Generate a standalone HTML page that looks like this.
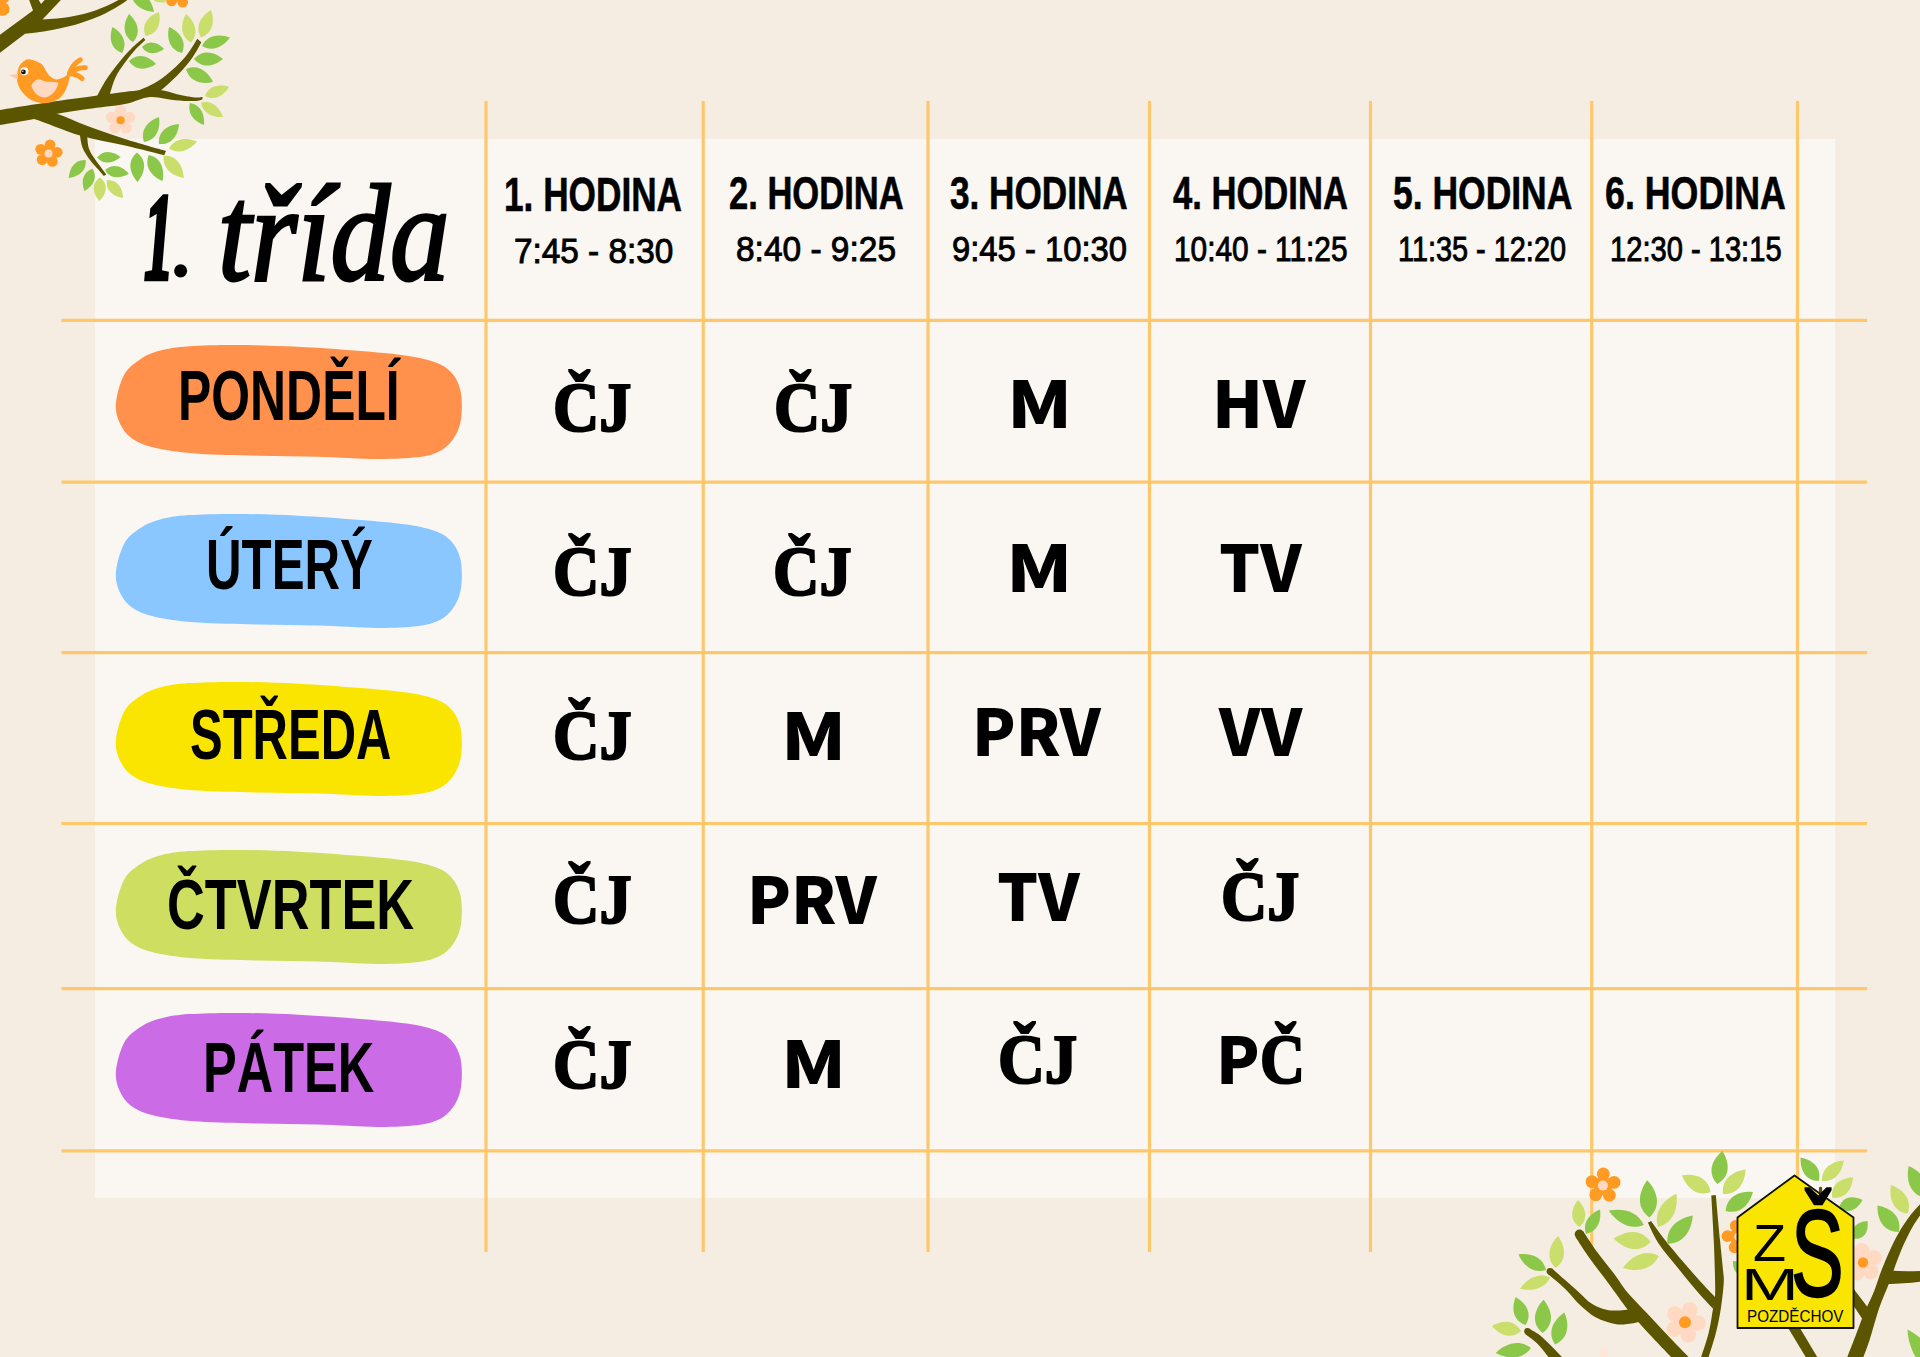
<!DOCTYPE html>
<html lang="cs"><head><meta charset="utf-8"><title>Rozvrh hodin – 1. třída</title>
<style>
html,body{margin:0;padding:0}
body{width:1920px;height:1357px;overflow:hidden;position:relative;background:#F5EDE2;font-family:"Liberation Sans",sans-serif;color:#000}
.panel{position:absolute;left:95.2px;top:138.5px;width:1739.6px;height:1059.2px;background:#FAF7F2}
svg{position:absolute;left:0;top:0}
h1{margin:0;padding:0;font-size:inherit;font-weight:inherit}
.t{position:absolute;white-space:nowrap;line-height:1;transform-origin:0 0;color:#000}
.hd,.dy{font-family:"Liberation Sans",sans-serif;font-weight:bold}
.hd{-webkit-text-stroke:0.6px #000}
.tm{font-family:"Liberation Sans",sans-serif;font-weight:normal;-webkit-text-stroke:0.9px #000}
.cb{font-family:"Noto Sans CJK KR","Liberation Sans",sans-serif;font-weight:900}
.cs{font-family:"Liberation Serif",serif;font-weight:bold;-webkit-text-stroke:2.2px #000}
.ti{font-family:"Liberation Serif",serif;font-weight:bold;font-style:italic;-webkit-text-stroke:4.5px #000}
.lg{font-family:"Liberation Sans",sans-serif;font-weight:normal}
.lgb{font-family:"Liberation Sans",sans-serif;font-weight:normal;-webkit-text-stroke:2.4px #000}
.ti2{font-family:"Liberation Serif",serif;font-weight:normal;font-style:italic;-webkit-text-stroke:3px #000}
</style></head><body>
<div class="panel"></div>
<svg width="1920" height="1357" viewBox="0 0 1920 1357"><g stroke="#FFC76C" stroke-width="3.2" fill="none"><path d="M486 101V1252"/><path d="M703.25 101V1252"/><path d="M928 101V1252"/><path d="M1149.5 101V1252"/><path d="M1370.5 101V1252"/><path d="M1591.7 101V1252"/><path d="M1797.5 101V1252"/><path d="M61.5 320.4H1867"/><path d="M61.5 482.1H1867"/><path d="M61.5 652.6H1867"/><path d="M61.5 823.5H1867"/><path d="M61.5 988.6H1867"/><path d="M61.5 1150.9H1867"/></g><path transform="translate(115.8 345)" fill="#FF914D" d="M0 60.2C0.33 51.62 3.98 38.08 7.95 30.5C11.92 22.92 17.86 18.82 23.8 14.7C29.74 10.58 35.37 8.05 43.6 5.8C51.83 3.55 60.02 2.17 73.2 1.2C86.38 0.23 104.53 -0.1 122.7 0C140.87 0.1 162.4 0.83 182.2 1.8C202 2.77 223.37 4.32 241.5 5.8C259.63 7.28 277.8 8.72 291 10.7C304.2 12.68 313.12 14.73 320.7 17.7C328.28 20.67 332.55 24.05 336.5 28.5C340.45 32.95 342.82 38.45 344.4 44.4C345.98 50.35 346.17 57.93 346 64.2C345.83 70.47 345.32 76.4 343.4 82C341.48 87.6 338.28 93.52 334.5 97.8C330.72 102.08 326.3 105.28 320.7 107.7C315.1 110.12 310.82 111.25 300.9 112.3C290.98 113.35 277.7 114.1 261.2 114C244.7 113.9 221.68 112.25 201.9 111.7C182.12 111.15 162.28 111.2 142.5 110.7C122.72 110.2 99.68 109.86 83.2 108.7C66.72 107.54 54.17 105.9 43.6 103.75C33.03 101.6 26.07 99.42 19.8 95.8C13.53 92.17 9.3 87.93 6 82C2.7 76.07 -0.33 68.78 0 60.2Z"/><path transform="translate(115.8 513.9)" fill="#8AC6FF" d="M0 60.2C0.33 51.62 3.98 38.08 7.95 30.5C11.92 22.92 17.86 18.82 23.8 14.7C29.74 10.58 35.37 8.05 43.6 5.8C51.83 3.55 60.02 2.17 73.2 1.2C86.38 0.23 104.53 -0.1 122.7 0C140.87 0.1 162.4 0.83 182.2 1.8C202 2.77 223.37 4.32 241.5 5.8C259.63 7.28 277.8 8.72 291 10.7C304.2 12.68 313.12 14.73 320.7 17.7C328.28 20.67 332.55 24.05 336.5 28.5C340.45 32.95 342.82 38.45 344.4 44.4C345.98 50.35 346.17 57.93 346 64.2C345.83 70.47 345.32 76.4 343.4 82C341.48 87.6 338.28 93.52 334.5 97.8C330.72 102.08 326.3 105.28 320.7 107.7C315.1 110.12 310.82 111.25 300.9 112.3C290.98 113.35 277.7 114.1 261.2 114C244.7 113.9 221.68 112.25 201.9 111.7C182.12 111.15 162.28 111.2 142.5 110.7C122.72 110.2 99.68 109.86 83.2 108.7C66.72 107.54 54.17 105.9 43.6 103.75C33.03 101.6 26.07 99.42 19.8 95.8C13.53 92.17 9.3 87.93 6 82C2.7 76.07 -0.33 68.78 0 60.2Z"/><path transform="translate(115.8 681.9)" fill="#FAE500" d="M0 60.2C0.33 51.62 3.98 38.08 7.95 30.5C11.92 22.92 17.86 18.82 23.8 14.7C29.74 10.58 35.37 8.05 43.6 5.8C51.83 3.55 60.02 2.17 73.2 1.2C86.38 0.23 104.53 -0.1 122.7 0C140.87 0.1 162.4 0.83 182.2 1.8C202 2.77 223.37 4.32 241.5 5.8C259.63 7.28 277.8 8.72 291 10.7C304.2 12.68 313.12 14.73 320.7 17.7C328.28 20.67 332.55 24.05 336.5 28.5C340.45 32.95 342.82 38.45 344.4 44.4C345.98 50.35 346.17 57.93 346 64.2C345.83 70.47 345.32 76.4 343.4 82C341.48 87.6 338.28 93.52 334.5 97.8C330.72 102.08 326.3 105.28 320.7 107.7C315.1 110.12 310.82 111.25 300.9 112.3C290.98 113.35 277.7 114.1 261.2 114C244.7 113.9 221.68 112.25 201.9 111.7C182.12 111.15 162.28 111.2 142.5 110.7C122.72 110.2 99.68 109.86 83.2 108.7C66.72 107.54 54.17 105.9 43.6 103.75C33.03 101.6 26.07 99.42 19.8 95.8C13.53 92.17 9.3 87.93 6 82C2.7 76.07 -0.33 68.78 0 60.2Z"/><path transform="translate(115.8 849.9)" fill="#CDDE61" d="M0 60.2C0.33 51.62 3.98 38.08 7.95 30.5C11.92 22.92 17.86 18.82 23.8 14.7C29.74 10.58 35.37 8.05 43.6 5.8C51.83 3.55 60.02 2.17 73.2 1.2C86.38 0.23 104.53 -0.1 122.7 0C140.87 0.1 162.4 0.83 182.2 1.8C202 2.77 223.37 4.32 241.5 5.8C259.63 7.28 277.8 8.72 291 10.7C304.2 12.68 313.12 14.73 320.7 17.7C328.28 20.67 332.55 24.05 336.5 28.5C340.45 32.95 342.82 38.45 344.4 44.4C345.98 50.35 346.17 57.93 346 64.2C345.83 70.47 345.32 76.4 343.4 82C341.48 87.6 338.28 93.52 334.5 97.8C330.72 102.08 326.3 105.28 320.7 107.7C315.1 110.12 310.82 111.25 300.9 112.3C290.98 113.35 277.7 114.1 261.2 114C244.7 113.9 221.68 112.25 201.9 111.7C182.12 111.15 162.28 111.2 142.5 110.7C122.72 110.2 99.68 109.86 83.2 108.7C66.72 107.54 54.17 105.9 43.6 103.75C33.03 101.6 26.07 99.42 19.8 95.8C13.53 92.17 9.3 87.93 6 82C2.7 76.07 -0.33 68.78 0 60.2Z"/><path transform="translate(115.8 1012.9)" fill="#CB6CE6" d="M0 60.2C0.33 51.62 3.98 38.08 7.95 30.5C11.92 22.92 17.86 18.82 23.8 14.7C29.74 10.58 35.37 8.05 43.6 5.8C51.83 3.55 60.02 2.17 73.2 1.2C86.38 0.23 104.53 -0.1 122.7 0C140.87 0.1 162.4 0.83 182.2 1.8C202 2.77 223.37 4.32 241.5 5.8C259.63 7.28 277.8 8.72 291 10.7C304.2 12.68 313.12 14.73 320.7 17.7C328.28 20.67 332.55 24.05 336.5 28.5C340.45 32.95 342.82 38.45 344.4 44.4C345.98 50.35 346.17 57.93 346 64.2C345.83 70.47 345.32 76.4 343.4 82C341.48 87.6 338.28 93.52 334.5 97.8C330.72 102.08 326.3 105.28 320.7 107.7C315.1 110.12 310.82 111.25 300.9 112.3C290.98 113.35 277.7 114.1 261.2 114C244.7 113.9 221.68 112.25 201.9 111.7C182.12 111.15 162.28 111.2 142.5 110.7C122.72 110.2 99.68 109.86 83.2 108.7C66.72 107.54 54.17 105.9 43.6 103.75C33.03 101.6 26.07 99.42 19.8 95.8C13.53 92.17 9.3 87.93 6 82C2.7 76.07 -0.33 68.78 0 60.2Z"/></svg>
<h1 class="title"><span class="t ti" style="left:144.4px;top:174.5px;font-size:124.5px;transform:scaleX(0.4770)">1</span><span class="t ti2" style="left:172px;top:201.8px;font-size:87.5px;transform:scaleX(0.9818)">.</span> <span class="t ti2" style="left:218.45px;top:165.35px;font-size:138.5px;transform:scaleX(0.8596)">třída</span></h1>
<div class="t hd" style="left:504px;top:170.6px;font-size:47.75px;transform:scaleX(0.7373)">1. HODINA</div>
<div class="t hd" style="left:728.5px;top:170.2px;font-size:46px;transform:scaleX(0.7508)">2. HODINA</div>
<div class="t hd" style="left:950.28px;top:170.2px;font-size:46px;transform:scaleX(0.7643)">3. HODINA</div>
<div class="t hd" style="left:1173.35px;top:170.2px;font-size:46px;transform:scaleX(0.7519)">4. HODINA</div>
<div class="t hd" style="left:1392.73px;top:170.2px;font-size:46px;transform:scaleX(0.7710)">5. HODINA</div>
<div class="t hd" style="left:1605.46px;top:171.05px;font-size:45.75px;transform:scaleX(0.7816)">6. HODINA</div>
<div class="t tm" style="left:513.95px;top:234.2px;font-size:34.5px;transform:scaleX(0.9655)">7:45 - 8:30</div>
<div class="t tm" style="left:736px;top:231.5px;font-size:34.5px;transform:scaleX(0.9699)">8:40 - 9:25</div>
<div class="t tm" style="left:952px;top:231.5px;font-size:34.5px;transform:scaleX(0.9501)">9:45 - 10:30</div>
<div class="t tm" style="left:1173.7px;top:231.5px;font-size:34.5px;transform:scaleX(0.8643)">10:40 - 11:25</div>
<div class="t tm" style="left:1398.05px;top:231.5px;font-size:34.5px;transform:scaleX(0.8368)">11:35 - 12:20</div>
<div class="t tm" style="left:1610.05px;top:232.35px;font-size:34.25px;transform:scaleX(0.8500)">12:30 - 13:15</div>
<div class="t dy" style="left:177.85px;top:362px;font-size:69.75px;transform:scaleX(0.7152)">PONDĚLÍ</div>
<div class="t dy" style="left:205.9px;top:531.2px;font-size:69.75px;transform:scaleX(0.7063)">ÚTERÝ</div>
<div class="t dy" style="left:189.9px;top:700.8px;font-size:69.75px;transform:scaleX(0.7022)">STŘEDA</div>
<div class="t dy" style="left:166.65px;top:870.8px;font-size:69.75px;transform:scaleX(0.7503)">ČTVRTEK</div>
<div class="t dy" style="left:203.4px;top:1033.9px;font-size:69.75px;transform:scaleX(0.7247)">PÁTEK</div>
<div class="t cs" style="left:552.75px;top:371.75px;font-size:70.5px;transform:scaleX(0.9097)">ČJ</div>
<div class="t cs" style="left:773.85px;top:371.75px;font-size:70.5px;transform:scaleX(0.9073)">ČJ</div>
<div class="t cb" style="left:1006.68px;top:367.8px;font-size:65px;transform:scaleX(1.1438)">M</div>
<div class="t cb" style="left:1212.05px;top:367.8px;font-size:65px;transform:scaleX(1.0161)">HV</div>
<div class="t cs" style="left:552.75px;top:535.95px;font-size:70.5px;transform:scaleX(0.9116)">ČJ</div>
<div class="t cs" style="left:773.35px;top:535.95px;font-size:70.5px;transform:scaleX(0.9116)">ČJ</div>
<div class="t cb" style="left:1005.9px;top:532.4px;font-size:65px;transform:scaleX(1.1665)">M</div>
<div class="t cb" style="left:1218.75px;top:532.4px;font-size:65px;transform:scaleX(0.9909)">TV</div>
<div class="t cs" style="left:552.75px;top:700.05px;font-size:70.5px;transform:scaleX(0.9116)">ČJ</div>
<div class="t cb" style="left:781.38px;top:700.2px;font-size:65px;transform:scaleX(1.1438)">M</div>
<div class="t cb" style="left:972.1px;top:696.1px;font-size:65px;transform:scaleX(0.9795)">PRV</div>
<div class="t cb" style="left:1219.2px;top:696.1px;font-size:65px;transform:scaleX(0.9866)">VV</div>
<div class="t cs" style="left:552.75px;top:864.05px;font-size:70.5px;transform:scaleX(0.9116)">ČJ</div>
<div class="t cb" style="left:746.8px;top:864.2px;font-size:65px;transform:scaleX(0.9874)">PRV</div>
<div class="t cb" style="left:996.95px;top:860.6px;font-size:65px;transform:scaleX(0.9909)">TV</div>
<div class="t cs" style="left:1220.95px;top:861.45px;font-size:70.5px;transform:scaleX(0.9079)">ČJ</div>
<div class="t cs" style="left:552.75px;top:1029.25px;font-size:70.5px;transform:scaleX(0.9116)">ČJ</div>
<div class="t cb" style="left:781.38px;top:1028.4px;font-size:65px;transform:scaleX(1.1438)">M</div>
<div class="t cs" style="left:998.25px;top:1024.05px;font-size:70.5px;transform:scaleX(0.9200)">ČJ</div>
<div class="cell"><span class="t cb" style="left:1216.4px;top:1024.2px;font-size:65px;transform:scaleX(0.9783)">P</span><span class="t cs" style="left:1259.5px;top:1024.05px;font-size:70.5px;transform:scaleX(0.8831)">Č</span></div>
<svg width="1920" height="1357" viewBox="0 0 1920 1357"><g id="tl"><g fill="#5C5500"><path d="M-2 36.2L33 10.6L27 -6L35.4 -6L41 4L50.2 -6L66.5 -6L42.5 19.4C60 18.6 90 17 122 -2L130 -2C111 13 80 28.5 25 33.7L-2 54.3Z"/><path d="M-2 110.3C4.58 109.25 20.92 106.45 37.5 104C54.08 101.55 80.83 97.83 97.5 95.6C114.17 93.37 127.08 91.53 137.5 90.6C147.92 89.67 153.42 89.4 160 90C166.58 90.6 171.17 92.97 177 94.2C182.83 95.43 190.75 96.93 195 97.4C199.25 97.87 201.25 97.07 202.5 97L202.5 99.2C201.25 99.5 199.58 100.83 195 101C190.42 101.17 182.5 100.87 175 100.2C167.5 99.53 158.33 96.37 150 97C141.67 97.63 135.42 102 125 104C114.58 106 99 107.33 87.5 109C76 110.67 64.92 112.33 56 114C47.08 115.67 43.67 117.1 34 119C24.33 120.9 4 124.33 -2 125.4Z"/><path d="M30 108C34.33 108.92 46.42 110.5 56 113.5C65.58 116.5 76 121.75 87.5 126C99 130.25 111.92 134.83 125 139C138.08 143.17 159.17 149 166 151L164.2 155.3C157.67 153.68 139.03 148.9 125 145.6C110.97 142.3 95.17 139.93 80 135.5C64.83 131.07 44 121.92 34 119C24 116.08 22.33 118.17 20 118Z"/><path d="M79.5 132C80 134.58 80.75 142.83 82.5 147.5C84.25 152.17 87.33 156.28 90 160C92.67 163.72 96.2 167.13 98.5 169.8C100.8 172.47 102.92 174.97 103.8 176L106.2 174.4C105.42 173.33 103.33 170.47 101.5 168C99.67 165.53 97.3 162.85 95.2 159.6C93.1 156.35 90.27 152.77 88.9 148.5C87.53 144.23 87.32 136.42 87 134Z"/><path d="M96 98C97.67 95 102.17 85.92 106 80C109.83 74.08 114.83 67.67 119 62.5C123.17 57.33 126.9 53.12 131 49C135.1 44.88 141.5 39.67 143.6 37.8L145.3 40C143.58 41.67 138.38 46.25 135 50C131.62 53.75 128.25 57.92 125 62.5C121.75 67.08 118.17 71.75 115.5 77.5C112.83 83.25 110.08 93.75 109 97Z"/><path d="M135 92C138.5 90.38 149.33 86.38 156 82.3C162.67 78.22 169.75 72.22 175 67.5C180.25 62.78 183.78 58.78 187.5 54C191.22 49.22 195.67 41.33 197.3 38.8L201.3 42.3C199.83 44.83 196.47 52.02 192.5 57.5C188.53 62.98 183.25 69.28 177.5 75.2C171.75 81.12 161.25 90.03 158 93Z"/></g><path fill="#8BC84A" d="M122 53C128.54 41.77 121.27 32.05 112.5 27C109.05 36.51 109.76 48.63 122 53Z"/><path fill="#8BC84A" d="M133 42C142.1 32.13 136.81 20.88 129 14C123.43 22.8 121.5 35.07 133 42Z"/><path fill="#C9DE6B" d="M145.6 36C158.7 33.87 161.15 22.02 159 12C149.35 15.42 140.54 23.73 145.6 36Z"/><path fill="#8BC84A" d="M142 47C147.83 56.05 157.34 53.93 164 49C158.34 42.95 149.37 39.15 142 47Z"/><path fill="#8BC84A" d="M129 61C136 71.84 147.72 69.62 156 64C149.16 56.7 138.2 51.96 129 61Z"/><path fill="#8BC84A" d="M182 53C187.4 40.55 178.69 31.26 169 27C166.59 37.3 168.8 49.85 182 53Z"/><path fill="#C9DE6B" d="M191 42.5C199.74 32.15 194.06 20.81 186 14C180.74 23.15 179.26 35.75 191 42.5Z"/><path fill="#C9DE6B" d="M201 37.5C213.77 32.8 214.55 20.01 211 10C201.85 15.39 194.23 25.7 201 37.5Z"/><path fill="#8BC84A" d="M202 46C213.19 52.64 223.97 45.85 230 37.5C220.35 33.91 207.61 34.26 202 46Z"/><path fill="#8BC84A" d="M194 59C202.7 69.4 214.88 65.76 223 59C214.88 52.24 202.7 48.6 194 59Z"/><path fill="#8BC84A" d="M186 69C189.59 82.27 202.51 84.45 213 82C208.37 72.27 198.61 63.53 186 69Z"/><path fill="#C9DE6B" d="M205 96C215.29 101.54 224.29 94.88 229 87C220.27 84.16 209.11 85.06 205 96Z"/><path fill="#C9DE6B" d="M201 102.5C202.76 114.2 213.69 117.72 223 117C219.99 108.16 212.44 99.5 201 102.5Z"/><path fill="#8BC84A" d="M190 103C186.78 114.32 195.25 121.91 204 125C204.91 115.77 201.62 104.88 190 103Z"/><path fill="#8BC84A" d="M144 142C157.42 139.85 160.6 127.48 159 117C149 120.52 139.58 129.15 144 142Z"/><path fill="#8BC84A" d="M159 144C172.35 145.35 178.18 134.38 179 124C168.62 124.82 157.65 130.65 159 144Z"/><path fill="#C9DE6B" d="M169 148.5C179.63 155.33 190.61 149.26 197 141.5C187.71 137.66 175.17 137.47 169 148.5Z"/><path fill="#C9DE6B" d="M163.75 155.6C161.99 169.25 173.11 176.23 183.75 178C183.19 167.23 177.51 155.39 163.75 155.6Z"/><path fill="#8BC84A" d="M148.75 155C143.68 167.66 152.67 176.88 162.5 181C164.63 170.56 162.07 157.94 148.75 155Z"/><path fill="#8BC84A" d="M137 152.5C126.15 161.54 130.21 173.86 137.5 182C144.51 173.62 148.15 161.16 137 152.5Z"/><path fill="#8BC84A" d="M97 157.5C104.26 165.83 114.11 162.65 120.6 157C113.88 151.63 103.9 148.87 97 157.5Z"/><path fill="#8BC84A" d="M105 170C110.75 179.82 121.21 178.35 128.75 173.75C122.99 167.05 113.5 162.43 105 170Z"/><path fill="#8BC84A" d="M85.6 160C74.12 159.39 69.29 169.05 68.75 178C77.64 176.87 86.97 171.41 85.6 160Z"/><path fill="#8BC84A" d="M92.5 168.75C81.8 172.41 81.29 182.81 84.4 191C92.04 186.73 98.34 178.44 92.5 168.75Z"/><path fill="#C9DE6B" d="M100 177.5C90.22 184.3 93.33 194.26 99.4 201C105.81 194.58 109.42 184.8 100 177.5Z"/><path fill="#C9DE6B" d="M107 180C105.22 191.25 114.24 196.76 123 198C122.8 189.16 118.38 179.55 107 180Z"/><path fill="#8BC84A" d="M131 -9C130.89 4.98 143 11.11 154 12C152.12 1.13 144.91 -10.38 131 -9Z"/><path fill="#C9DE6B" d="M150 -8C150.56 1.78 158.76 3.61 166 2C164.28 -5.21 159.04 -11.78 150 -8Z"/><g fill="#FFD9C2"><circle cx="120.6" cy="110.65" r="5.6"/><circle cx="129.73" cy="117.28" r="5.6"/><circle cx="126.24" cy="128.02" r="5.6"/><circle cx="114.96" cy="128.02" r="5.6"/><circle cx="111.47" cy="117.28" r="5.6"/><path d="M120.6 110.65L129.73 117.28L126.24 128.02L114.96 128.02L111.47 117.28Z"/></g><circle cx="120.6" cy="120.25" r="4.1" fill="#FF9A22"/><g fill="#FF9A22"><circle cx="50.03" cy="144.83" r="5.4"/><circle cx="57.21" cy="152.28" r="5.4"/><circle cx="52.36" cy="161.41" r="5.4"/><circle cx="42.17" cy="159.61" r="5.4"/><circle cx="40.73" cy="149.37" r="5.4"/><path d="M50.03 144.83L57.21 152.28L52.36 161.41L42.17 159.61L40.73 149.37Z"/></g><circle cx="48.5" cy="153.5" r="4" fill="#FFD9C2"/><g fill="#FF9A22"><circle cx="2.83" cy="9.05" r="6.8"/><circle cx="-8.68" cy="12.8" r="6.8"/><circle cx="-15.8" cy="3" r="6.8"/><circle cx="-8.68" cy="-6.8" r="6.8"/><circle cx="2.83" cy="-3.05" r="6.8"/><path d="M2.83 9.05L-8.68 12.8L-15.8 3L-8.68 -6.8L2.83 -3.05Z"/></g><circle cx="-5.5" cy="3" r="4" fill="#FFD9C2"/><g fill="#FF9A22"><circle cx="182.75" cy="2.23" r="5.3"/><circle cx="171.64" cy="1.06" r="5.3"/><circle cx="169.32" cy="-9.86" r="5.3"/><circle cx="178.99" cy="-15.45" r="5.3"/><circle cx="187.29" cy="-7.98" r="5.3"/><path d="M182.75 2.23L171.64 1.06L169.32 -9.86L178.99 -15.45L187.29 -7.98Z"/></g><circle cx="178" cy="-6" r="4" fill="#FFD9C2"/><g><g fill="none" stroke="#FF9A22" stroke-width="5" stroke-linecap="round"><path d="M69.5 73.5Q72 64.5 80.2 59.8"/><path d="M69.5 73.5Q77 67 85.3 67.8"/><path d="M69.5 74Q77 73.5 82 78.6"/></g><path fill="#FF9A22" d="M30 59.4C32.92 59.82 38.54 61.77 41.25 63.75C43.96 65.72 44.79 69.17 46.25 71.25C47.71 73.33 48.33 74.89 50 76.25C51.67 77.61 54.08 79.18 56.25 79.4C58.42 79.62 60.81 78.54 63 77.6C65.19 76.66 68.44 73.14 69.4 73.75C70.36 74.36 69.48 78.33 68.75 81.25C68.02 84.17 66.67 88.33 65 91.25C63.33 94.17 61.25 96.88 58.75 98.75C56.25 100.62 52.92 101.79 50 102.5C47.08 103.21 44.38 103.42 41.25 103C38.12 102.58 34.17 101.54 31.25 100C28.33 98.46 25.83 96.04 23.75 93.75C21.67 91.46 19.89 88.96 18.75 86.25C17.61 83.54 16.9 80.62 16.9 77.5C16.9 74.38 17.61 70.21 18.75 67.5C19.89 64.79 21.88 62.6 23.75 61.25C25.62 59.9 27.08 58.98 30 59.4Z"/><path fill="#FFC9A8" d="M9.4 75.6L17.8 73.5L17.8 79.6Z"/><path fill="#FFD9C2" d="M37.5 79.4C39.89 78.9 42.92 80.98 46.25 81.5C49.58 82.02 55.73 81.5 57.5 82.5C59.27 83.5 57.73 85.62 56.9 87.5C56.07 89.38 54.48 92.08 52.5 93.75C50.52 95.42 47.5 97.29 45 97.5C42.5 97.71 39.58 96.46 37.5 95C35.42 93.54 33.43 90.5 32.5 88.75C31.57 87 31.07 86.06 31.9 84.5C32.73 82.94 35.11 79.9 37.5 79.4Z"/><circle cx="24.4" cy="71.3" r="4" fill="#fff"/><circle cx="23.4" cy="71.9" r="2.4" fill="#111"/><circle cx="22.8" cy="71.2" r="0.7" fill="#fff"/></g></g><g id="br"><g fill="#5C5500"><path d="M1575.5 1237C1577.92 1240.62 1584.46 1250.96 1590 1258.75C1595.54 1266.54 1602.5 1275.31 1608.75 1283.75C1615 1292.19 1622.5 1302.94 1627.5 1309.4C1632.5 1315.86 1634.58 1317.82 1638.75 1322.5C1642.92 1327.18 1646.79 1331.42 1652.5 1337.5C1658.21 1343.58 1669.58 1355.42 1673 1359L1690.5 1359C1686.25 1354.58 1672.38 1340.25 1665 1332.5C1657.62 1324.75 1652.5 1319.17 1646.25 1312.5C1640 1305.83 1632.71 1298.75 1627.5 1292.5C1622.29 1286.25 1620 1281.67 1615 1275C1610 1268.33 1602.8 1259.8 1597.5 1252.5C1592.2 1245.2 1585.58 1234.75 1583.2 1231.2Z"/><circle cx="1579.4" cy="1234.2" r="4.7"/><path d="M1552.3 1268.8C1556.5 1272.5 1571.22 1285.38 1577.5 1291C1583.78 1296.62 1585.83 1299.54 1590 1302.5C1594.17 1305.46 1598.33 1307.4 1602.5 1308.75C1606.67 1310.1 1610.08 1310.51 1615 1310.6C1619.92 1310.69 1629.17 1309.52 1632 1309.3L1642 1321.5C1639.58 1321.92 1632 1323.58 1627.5 1324C1623 1324.42 1620.25 1325.08 1615 1324C1609.75 1322.92 1601.83 1320.67 1596 1317.5C1590.17 1314.33 1585.17 1309.79 1580 1305C1574.83 1300.21 1570.38 1293.95 1565 1288.75C1559.62 1283.55 1550.58 1276.29 1547.7 1273.8Z"/><circle cx="1550" cy="1271.3" r="3.4"/><path d="M1647.9 1222.8C1649.71 1226.29 1653.82 1236.3 1658.75 1243.75C1663.68 1251.2 1671.29 1259.79 1677.5 1267.5C1683.71 1275.21 1690.08 1283.12 1696 1290C1701.92 1296.88 1710.17 1305.62 1713 1308.75L1716 1298C1713.75 1295.62 1707.88 1289.67 1702.5 1283.75C1697.12 1277.83 1690 1269.79 1683.75 1262.5C1677.5 1255.21 1670.46 1246.92 1665 1240C1659.54 1233.08 1653.33 1224.17 1651 1221Z"/><path d="M1711.3 1195.4C1711.71 1202.83 1713.13 1226.32 1713.75 1240C1714.37 1253.68 1714.79 1268 1715 1277.5C1715.21 1287 1715.33 1291.79 1715 1297C1714.67 1302.21 1714.04 1302.83 1713 1308.75C1711.96 1314.67 1710.83 1324.12 1708.75 1332.5C1706.67 1340.88 1701.88 1354.58 1700.5 1359L1708 1359C1709.33 1354.58 1713.83 1341.08 1716 1332.5C1718.17 1323.92 1719.71 1315.83 1721 1307.5C1722.29 1299.17 1723.42 1288.75 1723.75 1282.5C1724.08 1276.25 1723.62 1277.08 1723 1270C1722.38 1262.92 1721.2 1252.5 1720 1240C1718.8 1227.5 1716.5 1202.5 1715.8 1195Z"/><path d="M1528.9 1328.6C1531.17 1330.08 1536.65 1332.43 1542.5 1337.5C1548.35 1342.57 1560.42 1355.42 1564 1359L1550 1359C1547.92 1356.46 1541.63 1347.93 1537.5 1343.75C1533.37 1339.57 1527.25 1335.54 1525.2 1333.9Z"/><circle cx="1527.3" cy="1331.2" r="3.1"/><path d="M1922 1202C1919.67 1204.73 1912.47 1212.2 1908 1218.4C1903.53 1224.6 1899.47 1230.93 1895.2 1239.2C1890.93 1247.47 1885.87 1259.47 1882.4 1268C1878.93 1276.53 1876.93 1284 1874.4 1290.4C1871.87 1296.8 1869.2 1301.87 1867.2 1306.4C1865.2 1310.93 1864.4 1312.53 1862.4 1317.6C1860.4 1322.67 1857.85 1329.9 1855.2 1336.8C1852.55 1343.7 1847.95 1355.3 1846.5 1359L1862.6 1359C1863.77 1355.83 1866.83 1348.5 1869.6 1340C1872.37 1331.5 1876 1317.33 1879.2 1308C1882.4 1298.67 1886.4 1290.27 1888.8 1284C1891.2 1277.73 1891.2 1276.8 1893.6 1270.4C1896 1264 1900 1252.93 1903.2 1245.6C1906.4 1238.27 1909.67 1231.92 1912.8 1226.4C1915.93 1220.88 1920.47 1214.82 1922 1212.5Z"/><path d="M1890 1270.6C1900 1271.3 1910 1271.4 1922 1270.8V1281.4C1910 1283 1900 1283.6 1886 1284Z"/><path d="M1835 1263L1853.75 1289L1869 1309L1863 1320L1853.75 1306L1825 1268Z"/><path d="M1776 1308L1807.5 1360H1819L1788 1308Z"/><path d="M1819 1187.3Q1820.5 1186.2 1822 1187.3L1824 1215H1819Z"/></g><path fill="#C9DE6B" d="M1579.4 1227C1589.37 1218.36 1585.14 1207.21 1578 1200C1571.64 1207.91 1568.59 1219.44 1579.4 1227Z"/><path fill="#8BC84A" d="M1586 1233.75C1598.52 1231.23 1601.49 1219.33 1600 1209.4C1590.67 1213.11 1581.88 1221.66 1586 1233.75Z"/><path fill="#C9DE6B" d="M1555.6 1268C1567.89 1259.27 1564.85 1245.52 1558 1236C1549.81 1244.4 1544.75 1257.53 1555.6 1268Z"/><path fill="#8BC84A" d="M1546 1270C1542.88 1256.27 1529.54 1252.89 1518.5 1254.4C1522.86 1264.65 1532.62 1274.37 1546 1270Z"/><path fill="#C9DE6B" d="M1550 1277.5C1537.63 1271.89 1526.21 1279.76 1520 1288.75C1530.59 1291.44 1544.37 1289.86 1550 1277.5Z"/><path fill="#8BC84A" d="M1643.75 1225C1637.51 1210.32 1621.32 1207.9 1608.75 1210.6C1615.78 1221.36 1628.99 1231.04 1643.75 1225Z"/><path fill="#8BC84A" d="M1649.4 1217.5C1662.33 1205.54 1656.68 1190.17 1647.25 1180.25C1639.03 1191.19 1635.18 1207.11 1649.4 1217.5Z"/><path fill="#C9DE6B" d="M1658 1227C1674.04 1222.86 1678.14 1206.85 1676.5 1193.75C1664.5 1199.27 1653.06 1211.19 1658 1227Z"/><path fill="#8BC84A" d="M1667.5 1243.75C1684.6 1243.85 1691.87 1229.04 1692.75 1215.6C1679.49 1217.93 1665.55 1226.76 1667.5 1243.75Z"/><path fill="#C9DE6B" d="M1650.6 1242C1640.74 1227.48 1624.84 1230.85 1613.75 1238.75C1623.29 1248.47 1638.35 1254.57 1650.6 1242Z"/><path fill="#C9DE6B" d="M1658.75 1256C1644.21 1248.22 1630.53 1257.25 1623 1268C1635.49 1272.03 1651.84 1270.98 1658.75 1256Z"/><path fill="#C9DE6B" d="M1710.6 1192C1708.08 1176.62 1693.95 1173.21 1682 1175.25C1686.07 1186.67 1695.96 1197.33 1710.6 1192Z"/><path fill="#8BC84A" d="M1717.25 1184C1731.44 1176.11 1729.18 1161.6 1722.4 1151.1C1712.74 1159.03 1706.15 1172.15 1717.25 1184Z"/><path fill="#C9DE6B" d="M1723 1194C1738.62 1194.74 1745.02 1181.56 1745.6 1169.4C1733.53 1171.01 1720.94 1178.5 1723 1194Z"/><path fill="#8BC84A" d="M1725.6 1211C1740.66 1215.16 1749.77 1203.73 1753 1192C1740.88 1190.91 1726.98 1195.44 1725.6 1211Z"/><path fill="#8BC84A" d="M1818.75 1181C1822.17 1167.1 1811.44 1159.63 1800.6 1157.5C1799.92 1168.53 1804.44 1180.8 1818.75 1181Z"/><path fill="#C9DE6B" d="M1822 1181C1835.64 1182.47 1842.28 1171.24 1843.75 1160.6C1833.04 1161.38 1821.41 1167.29 1822 1181Z"/><path fill="#C9DE6B" d="M1832 1197.5C1846.02 1199.61 1852.14 1188.37 1853 1177.5C1842.1 1177.83 1830.58 1183.39 1832 1197.5Z"/><path fill="#8BC84A" d="M1839 1207.5C1849.21 1215.16 1857.98 1208.54 1862.5 1200C1853.86 1195.66 1842.89 1195.34 1839 1207.5Z"/><path fill="#8BC84A" d="M1853 1238.75C1865.4 1240 1868.68 1230.25 1867.5 1221C1858.2 1221.69 1849.3 1226.85 1853 1238.75Z"/><path fill="#8BC84A" d="M1925 1198C1931.54 1182.6 1920.72 1171.19 1908.75 1166C1905.88 1178.73 1908.71 1194.2 1925 1198Z"/><path fill="#C9DE6B" d="M1907.5 1213.75C1912.96 1199.15 1902.39 1189.17 1891 1185C1888.85 1196.93 1892.14 1211.1 1907.5 1213.75Z"/><path fill="#8BC84A" d="M1898.75 1232C1902.35 1216.05 1889.93 1207.78 1877.5 1205.6C1876.97 1218.21 1882.4 1232.11 1898.75 1232Z"/><path fill="#8BC84A" d="M1525.6 1325C1533.15 1312.83 1525.26 1302.39 1515.6 1297C1511.54 1307.29 1512.05 1320.37 1525.6 1325Z"/><path fill="#8BC84A" d="M1542.5 1333C1555.59 1323.41 1551.54 1309.31 1543.5 1299.75C1534.9 1308.81 1530.01 1322.64 1542.5 1333Z"/><path fill="#8BC84A" d="M1555 1344.4C1569.33 1338.22 1569.25 1323.64 1564.4 1312.5C1554.29 1319.23 1546.31 1331.44 1555 1344.4Z"/><path fill="#C9DE6B" d="M1521 1331C1514.17 1318.66 1501.33 1320.35 1492 1326C1498.91 1334.45 1510.43 1340.34 1521 1331Z"/><path fill="#8BC84A" d="M1531 1348C1518.81 1338.41 1504.49 1344.39 1495.6 1353C1506.53 1358.81 1521.95 1360.59 1531 1348Z"/><path fill="#8BC84A" d="M1935 1372C1937.5 1352.28 1922.19 1336.82 1907.5 1329.4C1908.21 1345.84 1916 1366.16 1935 1372Z"/><path fill="#8BC84A" d="M1745 1275C1747.47 1265.59 1740.31 1261.54 1733 1261C1732.41 1268.3 1735.33 1276.01 1745 1275Z"/><g fill="#FF9A22"><circle cx="1603.3" cy="1174.01" r="6.4"/><circle cx="1614.05" cy="1182.4" r="6.4"/><circle cx="1609.39" cy="1195.22" r="6.4"/><circle cx="1595.76" cy="1194.74" r="6.4"/><circle cx="1592" cy="1181.63" r="6.4"/><path d="M1603.3 1174.01L1614.05 1182.4L1609.39 1195.22L1595.76 1194.74L1592 1181.63Z"/></g><circle cx="1602.9" cy="1185.6" r="5" fill="#FFD9C2"/><g fill="#FF9A22"><circle cx="1735.78" cy="1225.79" r="5.9"/><circle cx="1748.18" cy="1230.55" r="5.9"/><circle cx="1747.48" cy="1243.81" r="5.9"/><circle cx="1734.65" cy="1247.25" r="5.9"/><circle cx="1727.42" cy="1236.11" r="5.9"/><path d="M1735.78 1225.79L1748.18 1230.55L1747.48 1243.81L1734.65 1247.25L1727.42 1236.11Z"/></g><circle cx="1738.7" cy="1236.7" r="4.5" fill="#FFD9C2"/><g fill="#FFD9C2"><circle cx="1861.95" cy="1250.55" r="7.6"/><circle cx="1874.05" cy="1257.81" r="7.6"/><circle cx="1870.87" cy="1271.56" r="7.6"/><circle cx="1856.82" cy="1272.79" r="7.6"/><circle cx="1851.31" cy="1259.8" r="7.6"/><path d="M1861.95 1250.55L1874.05 1257.81L1870.87 1271.56L1856.82 1272.79L1851.31 1259.8Z"/></g><circle cx="1863" cy="1262.5" r="5.2" fill="#FF9A22"/><g fill="#FFD9C2"><circle cx="1689.66" cy="1310.11" r="7.8"/><circle cx="1697.98" cy="1322.93" r="7.8"/><circle cx="1688.36" cy="1334.81" r="7.8"/><circle cx="1674.1" cy="1329.33" r="7.8"/><circle cx="1674.9" cy="1314.07" r="7.8"/><path d="M1689.66 1310.11L1697.98 1322.93L1688.36 1334.81L1674.1 1329.33L1674.9 1314.07Z"/></g><circle cx="1685" cy="1322.25" r="6" fill="#FF9A22"/><path fill="#FFE6D8" d="M1603.5 1361C1606.61 1356.17 1604.11 1350.77 1600.8 1347.5C1599.01 1351.79 1598.77 1357.73 1603.5 1361Z"/><path fill="#FFE6D8" d="M1604.5 1361C1609.09 1357.33 1608.58 1351.16 1606.6 1346.8C1603.44 1350.4 1601.17 1356.15 1604.5 1361Z"/><path d="M1737.5 1217.5L1794.5 1175.5L1853.5 1217.5V1328H1737.5Z" fill="#FAE500" stroke="#111" stroke-width="1.8" stroke-linejoin="round"/></g></svg>
<div class="logo"><span class="t lg" style="left:1753.25px;top:1216.5px;font-size:52.25px;transform:scaleX(1.0351)">Z</span><span class="t lg" style="left:1741.25px;top:1261.5px;font-size:45px;transform:scaleX(1.5417)">M</span><span class="t lgb" style="left:1790.75px;top:1192px;font-size:123px;transform:scaleX(0.6415)">Š</span><span class="t lg" style="left:1746.75px;top:1308.25px;font-size:16.5px;transform:scaleX(0.9223)">POZDĚCHOV</span></div>
</body></html>
